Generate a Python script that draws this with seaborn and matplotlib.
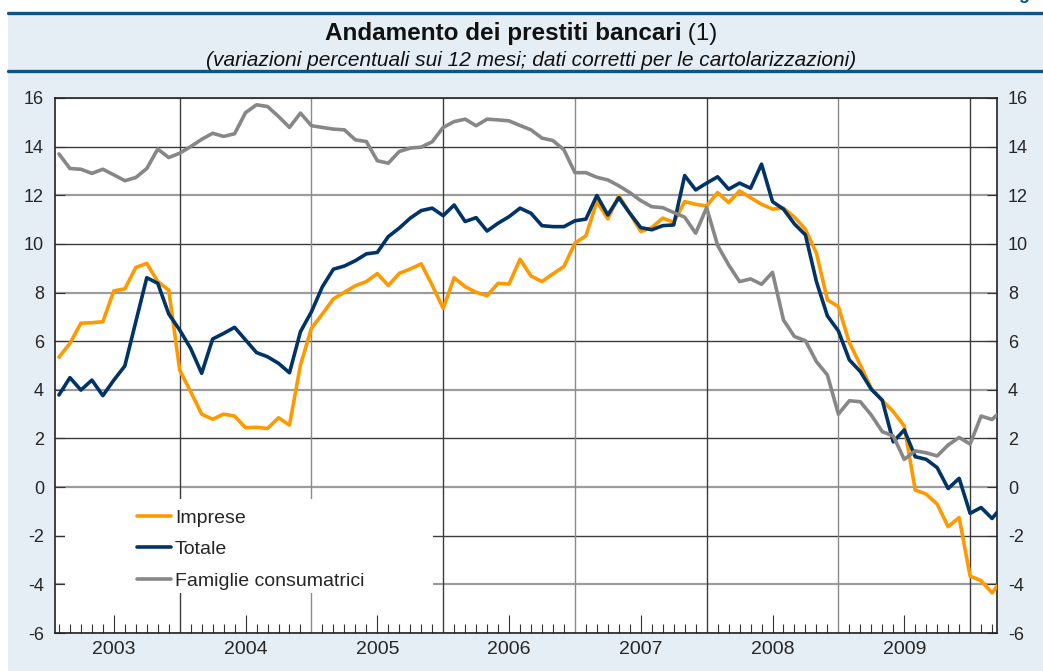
import numpy as np
import pandas as pd
import matplotlib
matplotlib.use("Agg")
import matplotlib.pyplot as plt
from matplotlib.patches import Rectangle
from matplotlib.lines import Line2D
import seaborn as sns

# monthly data, Jan 2003 = month 1 (end-of-month positions)
mese = np.arange(1, 88)

imprese = [5.34, 5.91, 6.74, 6.76, 6.80, 8.07, 8.15, 9.03, 9.20, 8.45, 8.10, 4.81,
           3.92, 3.00, 2.79, 3.00, 2.92, 2.44, 2.46, 2.41, 2.85, 2.55, 5.02, 6.53,
           7.12, 7.74, 8.01, 8.28, 8.45, 8.78, 8.29, 8.79, 8.97, 9.18, 8.30, 7.35,
           8.61, 8.24, 8.01, 7.87, 8.38, 8.35, 9.37, 8.68, 8.45, 8.77, 9.07, 10.03,
           10.33, 11.74, 11.03, 11.98, 11.26, 10.51, 10.67, 11.06, 10.89, 11.74, 11.63, 11.56,
           12.11, 11.70, 12.18, 11.90, 11.63, 11.43, 11.47, 11.10, 10.60, 9.62, 7.70, 7.42,
           5.94, 5.02, 4.06, 3.56, 3.10, 2.51, -0.12, -0.29, -0.70, -1.63, -1.25, -3.66,
           -3.85, -4.35, -3.75]

totale = [3.79, 4.50, 3.99, 4.40, 3.76, 4.40, 4.98, 6.80, 8.61, 8.38, 7.12, 6.46,
          5.70, 4.68, 6.09, 6.32, 6.57, 6.05, 5.53, 5.36, 5.09, 4.70, 6.39, 7.21,
          8.24, 8.96, 9.09, 9.31, 9.59, 9.65, 10.30, 10.65, 11.06, 11.37, 11.47, 11.16,
          11.60, 10.92, 11.08, 10.53, 10.85, 11.12, 11.47, 11.26, 10.75, 10.71, 10.71, 10.95,
          11.02, 11.99, 11.19, 11.90, 11.26, 10.67, 10.58, 10.75, 10.78, 12.81, 12.22, 12.50,
          12.76, 12.25, 12.50, 12.29, 13.28, 11.74, 11.43, 10.82, 10.37, 8.45, 7.04, 6.42,
          5.23, 4.75, 4.02, 3.57, 1.86, 2.35, 1.25, 1.14, 0.80, -0.06, 0.36, -1.08,
          -0.84, -1.29, -0.75]

famiglie = [13.70, 13.10, 13.07, 12.90, 13.07, 12.84, 12.60, 12.73, 13.10, 13.90, 13.55, 13.73,
            14.00, 14.30, 14.55, 14.42, 14.53, 15.40, 15.72, 15.65, 15.24, 14.79, 15.38, 14.86,
            14.79, 14.72, 14.69, 14.28, 14.21, 13.42, 13.32, 13.80, 13.94, 13.98, 14.20, 14.79,
            15.03, 15.13, 14.86, 15.13, 15.10, 15.06, 14.87, 14.69, 14.35, 14.25, 13.87, 12.93,
            12.93, 12.74, 12.63, 12.39, 12.11, 11.78, 11.53, 11.49, 11.29, 11.10, 10.44, 11.49,
            9.94, 9.14, 8.45, 8.56, 8.34, 8.83, 6.87, 6.19, 6.02, 5.16, 4.61, 3.00,
            3.55, 3.51, 2.96, 2.28, 2.10, 1.14, 1.49, 1.41, 1.28, 1.73, 2.04, 1.77,
            2.92, 2.78, 3.20]

serie = ["Imprese", "Totale", "Famiglie consumatrici"]
colori = ["#FF9900", "#003366", "#878787"]
anni = ["2003", "2004", "2005", "2006", "2007", "2008", "2009"]

df = pd.DataFrame({
    "mese": np.tile(mese, 3),
    "valore": imprese + totale + famiglie,
    "serie": np.repeat(serie, len(mese)),
})

sns.set_theme(style="white")
plt.rcParams["font.family"] = ["Liberation Sans", "DejaVu Sans"]
plt.rcParams["axes.unicode_minus"] = False

bg = "#E6EEF5"
head = "#0E5485"
W, H = 1043, 671

fig = plt.figure(figsize=(W / 100, H / 100), dpi=100)
fig.patch.set_facecolor("white")
fig.add_artist(Rectangle((8 / W, 0), 1 - 8 / W, 1 - 13 / H, transform=fig.transFigure,
                         facecolor=bg, edgecolor="none", zorder=0))
for yy in (13, 71):
    fig.add_artist(Line2D([8 / W, 1], [1 - yy / H] * 2, transform=fig.transFigure,
                          color=head, lw=2.4, zorder=1))
# figure label cut off at the top right, as in the source
fig.text(1004 / W, 1 + 1 / H, "Figura", color=head, fontsize=13, weight="bold",
         va="baseline", ha="left")

ax = fig.add_axes([55 / W, 1 - 633 / H, 942 / W, 535 / H])
ax.set_facecolor("white")

sns.lineplot(data=df, x="mese", y="valore", hue="serie", hue_order=serie,
             palette=colori, linewidth=2.6, ax=ax, zorder=3)

ax.set_xlim(0.64, 86.45)
ax.set_ylim(-6, 16)
ax.set_xlabel("")
ax.set_ylabel("")

# horizontal grid, alternating dark / light
yt = np.arange(-6, 17, 2)
ax.set_yticks(yt)
ax.set_axisbelow(True)
ax.grid(axis="y", lw=1.2)
for y, gl in zip(yt, ax.get_ygridlines()):
    if y % 4 == 2:
        gl.set_color("#3c3c3c")
        gl.set_linewidth(1.0)
    else:
        gl.set_color("#9c9c9c")
        gl.set_linewidth(1.6)

# year boundaries
for i, xb in enumerate(range(12, 85, 12)):
    ax.axvline(xb, color="#3c3c3c" if i % 2 == 0 else "#8a8a8a", lw=1.0, zorder=0.6)

# year labels on the mid-year ticks, month minor ticks
ax.set_xticks(np.arange(6, 84, 12))
ax.set_xticklabels(anni)
ax.set_xticks([m for m in range(1, 87) if m % 6 != 0], minor=True)
ax.tick_params(axis="x", which="major", direction="in", length=13, width=0.8,
               color="#333333", labelsize=14, pad=6, bottom=True)
ax.tick_params(axis="x", which="minor", direction="in", length=6.5, width=0.8,
               color="#333333", bottom=True)
ax.tick_params(axis="y", direction="in", length=7.2, width=0.8, color="#333333",
               labelsize=13, left=True, right=True, labelright=True, pad=8)

for s in ax.spines.values():
    s.set_color("#222222")
    s.set_linewidth(1.2)

# white box behind legend
ax.add_patch(Rectangle((10 / 942, 40 / 535), 368 / 942, 94 / 535, transform=ax.transAxes,
                       facecolor="white", edgecolor="none", zorder=1))
handles, labels = ax.get_legend_handles_labels()
ax.legend(handles, labels, loc="upper left", bbox_to_anchor=(82 / 942, 124 / 535),
          frameon=False, fontsize=14, handlelength=1.75, handletextpad=0.2,
          labelspacing=0.72, borderpad=0, borderaxespad=0)

# title: bold part + normal "(1)"
t1 = fig.text(0, 1 - 40 / H, "Andamento dei prestiti bancari", fontsize=17.5,
              weight="bold", ha="left", va="baseline", color="#111111")
t2 = fig.text(0, 1 - 40 / H, " (1)", fontsize=17.5, ha="left", va="baseline",
              color="#111111")
fig.canvas.draw()
r = fig.canvas.get_renderer()
w1 = t1.get_window_extent(r).width / W
w2 = t2.get_window_extent(r).width / W
x0 = 521 / W - (w1 + w2) / 2
t1.set_x(x0)
t2.set_x(x0 + w1)
fig.text(531 / W, 1 - 60 / H,
         "(variazioni percentuali sui 12 mesi; dati corretti per le cartolarizzazioni)",
         fontsize=15, style="italic", ha="center", va="center", color="#111111")

fig.savefig("out.png", dpi=100, facecolor=fig.get_facecolor())
